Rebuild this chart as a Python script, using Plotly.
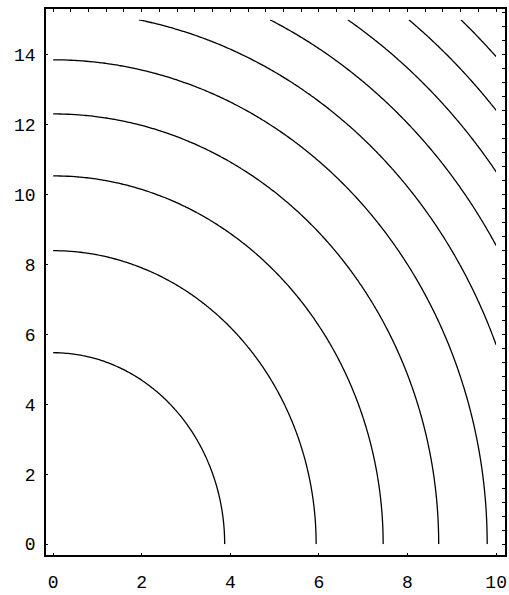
import numpy as np
import plotly.graph_objects as go

# Contour levels of f(x, y) = 2x^2 + y^2 drawn on the plot
CONTOUR_LEVELS = [30.0, 70.5, 111.0, 151.5, 192.0, 232.5, 273.0, 313.5, 354.0, 394.5]
X_TICKS = [0, 2, 4, 6, 8, 10]
Y_TICKS = [0, 2, 4, 6, 8, 10, 12, 14]
X_DOMAIN = (0.0, 10.0)
Y_DOMAIN = (0.0, 15.0)

# Sample the field on a grid over the plotted region
xs = np.linspace(X_DOMAIN[0], X_DOMAIN[1], 121)
ys = np.linspace(Y_DOMAIN[0], Y_DOMAIN[1], 181)
XX, YY = np.meshgrid(xs, ys)
ZZ = 2.0 * XX ** 2 + YY ** 2

step = CONTOUR_LEVELS[1] - CONTOUR_LEVELS[0]

fig = go.Figure()
fig.add_trace(go.Contour(
    x=xs, y=ys, z=ZZ,
    contours=dict(coloring="lines", start=CONTOUR_LEVELS[0],
                  end=CONTOUR_LEVELS[-1], size=step, showlabels=False),
    colorscale=[[0, "black"], [1, "black"]],
    line=dict(width=1.3),
    showscale=False,
    hoverinfo="skip",
))
# placeholder trace so the top/right tick axes are drawn
fig.add_trace(go.Scatter(x=[None], y=[None], xaxis="x2", yaxis="y2",
                         showlegend=False, hoverinfo="skip"))

xr = [-0.16, 10.2]
yr = [-0.31, 15.31]
font = dict(family="Liberation Mono, Courier New, monospace", size=18, color="black")

fig.update_layout(
    width=509, height=595,
    margin=dict(l=46, r=2, t=9, b=35),
    plot_bgcolor="white", paper_bgcolor="white",
    showlegend=False,
    font=font,
    xaxis=dict(range=xr, tickvals=X_TICKS, ticks="inside", ticklen=2,
               tickcolor="black", showline=True, linecolor="black", linewidth=1.5,
               mirror=True, showgrid=False, zeroline=False, tickfont=font,
               ticklabelstandoff=10),
    yaxis=dict(range=yr, tickvals=Y_TICKS, ticks="inside", ticklen=2,
               tickcolor="black", showline=True, linecolor="black", linewidth=1.5,
               mirror=True, showgrid=False, zeroline=False, tickfont=font,
               ticklabelstandoff=5),
    xaxis2=dict(range=xr, overlaying="x", side="top", tick0=0, dtick=0.4,
                ticks="inside", ticklen=3, tickcolor="black", showticklabels=False,
                showgrid=False, zeroline=False, showline=False),
    yaxis2=dict(range=yr, overlaying="y", side="right", tick0=0, dtick=0.4,
                ticks="inside", ticklen=3, tickcolor="black", showticklabels=False,
                showgrid=False, zeroline=False, showline=False),
)

fig.write_html("out.html")
